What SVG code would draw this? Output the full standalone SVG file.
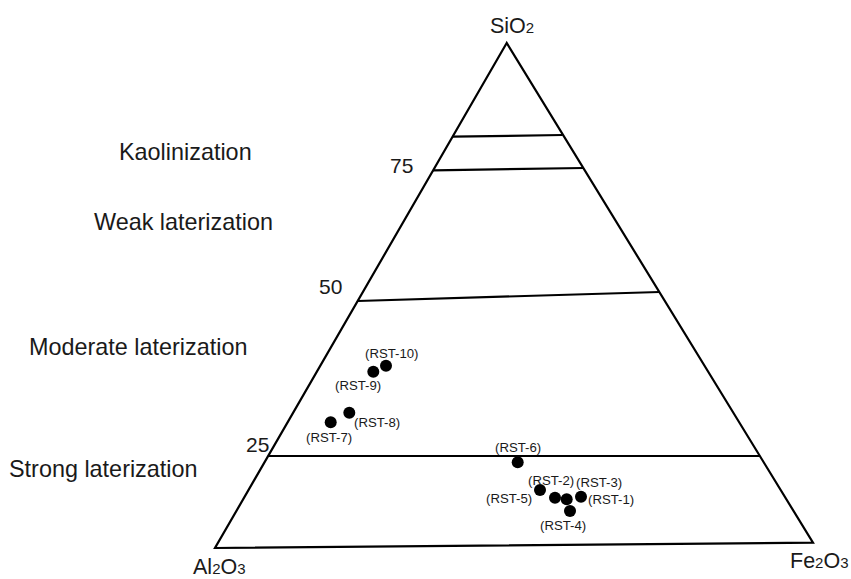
<svg xmlns="http://www.w3.org/2000/svg" width="851" height="579" viewBox="0 0 851 579">
<style>
text{font-family:"Liberation Sans",Arial,Helvetica,sans-serif;fill:#1a1a1a}
.big{font-size:23.4px}
.num{font-size:21px}
.lab{font-size:13.2px}
.ax{font-size:21.5px}
.sub{font-size:15px}
.ln{stroke:#000;stroke-width:2.2;fill:none;stroke-linejoin:miter}
.pt{fill:#000}
</style>
<rect width="851" height="579" fill="#fff"/>
<g id="triangle">
<polygon class="ln" points="506.7,43 215,548 813,542.7"/>
</g>
<g id="connectors">
<line class="ln" x1="452.6" y1="136.7" x2="562.5" y2="135"/>
<line class="ln" x1="433.2" y1="170.3" x2="583.3" y2="168"/>
<line class="ln" x1="357.7" y1="301" x2="659.5" y2="292"/>
<line class="ln" x1="268.6" y1="456" x2="759.9" y2="456"/>
</g>
<g id="axis-labels">
<text class="ax" x="490" y="33">SiO<tspan class="sub">2</tspan></text>
<text class="ax" x="193" y="574">Al<tspan class="sub">2</tspan>O<tspan class="sub">3</tspan></text>
<text class="ax" x="790" y="568">Fe<tspan class="sub">2</tspan>O<tspan class="sub">3</tspan></text>
</g>
<g id="scale">
<text class="num" x="390" y="173">75</text>
<text class="num" x="319" y="294">50</text>
<text class="num" x="246" y="452">25</text>
</g>
<g id="zones">
<text class="big" x="119" y="160">Kaolinization</text>
<text class="big" x="94" y="230">Weak laterization</text>
<text class="big" x="29" y="355">Moderate laterization</text>
<text class="big" x="9" y="477">Strong laterization</text>
</g>
<g id="RST-10"><circle class="pt" cx="386" cy="365.7" r="6"/><text class="lab" x="365" y="358">(RST-10)</text></g>
<g id="RST-9"><circle class="pt" cx="373.3" cy="371.7" r="6"/><text class="lab" x="335" y="390">(RST-9)</text></g>
<g id="RST-8"><circle class="pt" cx="349.3" cy="412.7" r="6"/><text class="lab" x="354" y="426.5">(RST-8)</text></g>
<g id="RST-7"><circle class="pt" cx="330.7" cy="422.3" r="6"/><text class="lab" x="306" y="441.5">(RST-7)</text></g>
<g id="RST-6"><circle class="pt" cx="517.7" cy="462.3" r="6"/><text class="lab" x="495" y="451.5">(RST-6)</text></g>
<g id="RST-2"><circle class="pt" cx="540" cy="490" r="6"/><text class="lab" x="528" y="485">(RST-2)</text></g>
<g id="RST-5"><circle class="pt" cx="555" cy="497.7" r="6"/><text class="lab" x="486" y="502.5">(RST-5)</text></g>
<g id="RST-4"><circle class="pt" cx="570" cy="511" r="6"/><text class="lab" x="540" y="530">(RST-4)</text></g>
<g id="RST-3"><circle class="pt" cx="566.7" cy="499.3" r="6"/><text class="lab" x="576" y="487.3">(RST-3)</text></g>
<g id="RST-1"><circle class="pt" cx="581" cy="496.7" r="6"/><text class="lab" x="588" y="504">(RST-1)</text></g>
</svg>
